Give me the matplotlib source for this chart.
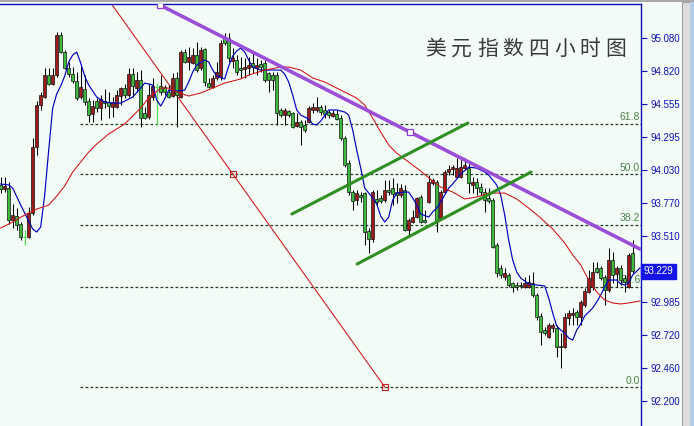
import matplotlib
matplotlib.use("Agg")
import matplotlib.pyplot as plt
from matplotlib.patches import Rectangle

# 4-hour candles, oldest first
opens = [93.914, 93.882, 93.890, 93.636, 93.668, 93.604, 93.501, 93.501, 93.692, 94.215,
         94.548, 94.612, 94.786, 94.715, 94.786, 95.104, 94.969, 94.842, 94.794, 94.739,
         94.612, 94.675, 94.580, 94.477, 94.580, 94.525, 94.580, 94.572, 94.533, 94.533,
         94.620, 94.683, 94.628, 94.794, 94.683, 94.747, 94.485, 94.453, 94.612, 94.691,
         94.699, 94.691, 94.652, 94.620, 94.763, 94.612, 94.969, 94.890, 94.882, 94.945,
         94.842, 94.993, 94.723, 94.691, 94.763, 94.771, 95.080, 95.080, 94.898, 94.905,
         94.842, 94.834, 94.842, 94.882, 94.842, 94.874, 94.882, 94.802, 94.786, 94.786,
         94.509, 94.469, 94.501, 94.485, 94.382, 94.414, 94.390, 94.414, 94.509, 94.509,
         94.533, 94.509, 94.493, 94.461, 94.477, 94.445, 94.287, 94.088, 93.858, 93.795,
         93.834, 93.850, 93.549, 93.486, 93.803, 93.811, 93.795, 93.874, 93.890, 93.858,
         93.834, 93.874, 93.557, 93.620, 93.660, 93.819, 93.636, 93.779, 93.929, 93.937,
         93.652, 93.858, 94.017, 94.040, 93.977, 93.977, 94.048, 94.048, 93.914, 93.937,
         93.898, 93.858, 93.811, 93.795, 93.438, 93.255, 93.184, 93.200, 93.136, 93.120,
         93.120, 93.105, 93.105, 93.136, 93.041, 92.874, 92.763, 92.708, 92.779, 92.779,
         92.636, 92.628, 92.858, 92.882, 92.906, 92.866, 92.962, 93.065, 93.105, 93.255,
         93.255, 93.184, 93.081, 93.319, 93.208, 93.255, 93.176, 93.105, 93.374]
highs = [93.977, 93.977, 93.937, 93.763, 93.731, 93.620, 93.557, 93.739, 94.287, 94.580,
         94.652, 94.842, 94.842, 94.842, 95.128, 95.128, 94.985, 94.890, 94.850, 94.810,
         94.850, 94.786, 94.604, 94.588, 94.604, 94.628, 94.675, 94.652, 94.612, 94.667,
         94.691, 94.715, 94.842, 94.842, 94.810, 94.826, 94.533, 94.723, 94.763, 94.723,
         94.786, 94.707, 94.707, 94.802, 94.810, 94.985, 94.993, 95.009, 95.001, 95.048,
         95.009, 95.001, 94.763, 94.786, 94.890, 95.064, 95.120, 95.120, 95.001, 94.945,
         94.929, 94.921, 94.929, 94.961, 94.921, 94.905, 94.905, 94.810, 94.810, 94.810,
         94.525, 94.525, 94.509, 94.493, 94.485, 94.429, 94.429, 94.541, 94.564, 94.612,
         94.548, 94.548, 94.509, 94.509, 94.509, 94.469, 94.302, 94.112, 93.874, 93.874,
         93.858, 93.858, 93.573, 93.874, 93.874, 93.834, 93.953, 93.953, 93.969, 93.929,
         93.922, 93.914, 93.652, 93.715, 93.819, 93.834, 93.715, 93.993, 93.969, 93.953,
         93.874, 94.033, 94.072, 94.072, 94.128, 94.136, 94.128, 94.096, 93.977, 93.969,
         93.929, 93.890, 93.890, 93.811, 93.454, 93.279, 93.255, 93.216, 93.144, 93.144,
         93.144, 93.184, 93.200, 93.224, 93.057, 92.898, 92.787, 92.819, 92.819, 92.803,
         92.739, 92.898, 92.922, 92.938, 92.922, 93.001, 93.097, 93.239, 93.303, 93.303,
         93.271, 93.200, 93.414, 93.382, 93.271, 93.279, 93.200, 93.374, 93.477]
lows = [93.850, 93.858, 93.604, 93.573, 93.557, 93.477, 93.438, 93.494, 93.676, 94.152,
        94.509, 94.604, 94.707, 94.707, 94.771, 94.961, 94.834, 94.771, 94.723, 94.588,
        94.596, 94.548, 94.414, 94.414, 94.493, 94.429, 94.525, 94.445, 94.453, 94.525,
        94.548, 94.604, 94.612, 94.612, 94.652, 94.374, 94.437, 94.437, 94.588, 94.390,
        94.628, 94.628, 94.604, 94.612, 94.374, 94.604, 94.882, 94.826, 94.874, 94.810,
        94.826, 94.699, 94.683, 94.683, 94.747, 94.747, 95.024, 94.890, 94.842, 94.786,
        94.763, 94.763, 94.786, 94.802, 94.786, 94.810, 94.731, 94.652, 94.667, 94.390,
        94.453, 94.390, 94.453, 94.366, 94.374, 94.231, 94.334, 94.406, 94.485, 94.493,
        94.469, 94.445, 94.445, 94.453, 94.429, 94.271, 94.056, 93.834, 93.715, 93.755,
        93.779, 93.438, 93.374, 93.462, 93.755, 93.771, 93.779, 93.834, 93.755, 93.771,
        93.819, 93.549, 93.517, 93.612, 93.652, 93.612, 93.612, 93.771, 93.914, 93.541,
        93.636, 93.850, 93.993, 93.993, 93.969, 93.969, 94.033, 93.850, 93.850, 93.834,
        93.834, 93.700, 93.771, 93.414, 93.184, 93.176, 93.160, 93.105, 93.065, 93.081,
        93.097, 93.097, 93.097, 93.025, 92.843, 92.644, 92.724, 92.700, 92.747, 92.549,
        92.462, 92.620, 92.803, 92.803, 92.803, 92.803, 92.946, 93.057, 93.081, 93.216,
        93.160, 92.962, 93.065, 93.136, 93.105, 93.120, 93.065, 93.097, 93.216]
closes = [93.882, 93.906, 93.636, 93.676, 93.597, 93.501, 93.501, 93.692, 94.215, 94.548,
          94.628, 94.786, 94.715, 94.786, 95.104, 94.969, 94.842, 94.794, 94.739, 94.604,
          94.691, 94.572, 94.469, 94.541, 94.525, 94.596, 94.564, 94.541, 94.572, 94.628,
          94.683, 94.628, 94.794, 94.699, 94.747, 94.445, 94.445, 94.628, 94.699, 94.691,
          94.652, 94.652, 94.612, 94.763, 94.628, 94.969, 94.890, 94.929, 94.945, 94.826,
          94.985, 94.731, 94.691, 94.763, 94.810, 95.040, 95.040, 94.921, 94.921, 94.810,
          94.826, 94.850, 94.866, 94.850, 94.866, 94.850, 94.747, 94.747, 94.747, 94.485,
          94.469, 94.509, 94.469, 94.374, 94.414, 94.374, 94.350, 94.525, 94.533, 94.533,
          94.493, 94.477, 94.469, 94.485, 94.437, 94.287, 94.072, 93.858, 93.787, 93.850,
          93.819, 93.541, 93.486, 93.858, 93.779, 93.787, 93.874, 93.858, 93.842, 93.834,
          93.890, 93.557, 93.636, 93.660, 93.811, 93.620, 93.620, 93.937, 93.953, 93.620,
          93.858, 94.017, 94.040, 94.056, 94.048, 94.056, 94.072, 93.929, 93.937, 93.890,
          93.858, 93.795, 93.787, 93.422, 93.216, 93.200, 93.216, 93.120, 93.105, 93.105,
          93.112, 93.136, 93.144, 93.041, 92.866, 92.747, 92.739, 92.803, 92.803, 92.628,
          92.628, 92.866, 92.898, 92.898, 92.866, 92.985, 93.073, 93.176, 93.224, 93.224,
          93.176, 93.081, 93.319, 93.200, 93.255, 93.160, 93.144, 93.358, 93.229]

# fast (blue) and slow (red) moving averages, read at candle indices
ma_fast_idx = [0, 2, 3, 5, 7, 8, 9, 10, 11, 12,
               13, 14, 15, 16, 17, 18, 19, 20, 21, 22,
               24, 26, 28, 30, 33, 35, 36, 38, 39, 40,
               41, 42, 44, 46, 47, 48, 49, 51, 52, 53,
               54, 56, 57, 58, 59, 60, 61, 62, 63, 65,
               68, 70, 71, 72, 73, 74, 75, 77, 78, 79,
               80, 82, 84, 86, 87, 88, 89, 90, 91, 93,
               94, 95, 96, 97, 98, 99, 101, 102, 103, 104,
               105, 107, 108, 109, 110, 112, 113, 115, 117, 119,
               121, 122, 124, 125, 126, 127, 128, 129, 130, 132,
               134, 136, 137, 138, 139, 140, 141, 142, 143, 144,
               145, 146, 147, 148, 149, 150, 151, 152, 153, 154,
               155, 156, 157, 158, 159.8]
ma_fast = [93.922, 93.914, 93.890, 93.755, 93.628, 93.565, 93.541, 93.581, 93.834, 94.191,
           94.525, 94.636, 94.699, 94.778, 94.890, 94.945, 94.969, 94.882, 94.778, 94.707,
           94.612, 94.572, 94.564, 94.564, 94.612, 94.683, 94.723, 94.707, 94.588, 94.541,
           94.596, 94.667, 94.659, 94.667, 94.731, 94.810, 94.866, 94.905, 94.890, 94.826,
           94.779, 94.755, 94.858, 94.937, 94.977, 95.001, 94.969, 94.905, 94.850, 94.826,
           94.826, 94.826, 94.794, 94.731, 94.628, 94.509, 94.469, 94.437, 94.398, 94.390,
           94.422, 94.509, 94.509, 94.493, 94.469, 94.350, 94.191, 94.049, 93.890, 93.811,
           93.763, 93.668, 93.620, 93.660, 93.795, 93.850, 93.858, 93.858, 93.811, 93.755,
           93.684, 93.660, 93.700, 93.731, 93.779, 93.890, 93.922, 94.001, 94.056, 94.048,
           94.017, 93.993, 93.914, 93.834, 93.676, 93.477, 93.319, 93.224, 93.176, 93.129,
           93.121, 93.113, 93.017, 92.899, 92.795, 92.763, 92.739, 92.700, 92.684, 92.763,
           92.811, 92.875, 92.906, 92.938, 92.986, 93.041, 93.105, 93.160, 93.160, 93.160,
           93.129, 93.121, 93.137, 93.200, 93.255]
ma_slow_idx = [0, 3, 6, 9, 12, 14, 16, 18, 20, 22,
               24, 27, 31, 35, 37, 40, 42, 44, 47, 50,
               53, 56, 60, 62, 66, 70, 72, 75, 78, 81,
               85, 89, 91, 93, 95, 97, 99, 102, 105, 108,
               110, 113, 116, 119, 122, 126, 129, 132, 135, 138,
               141, 143, 145, 147, 149, 151, 153, 155, 157, 159.8]
ma_slow = [93.573, 93.620, 93.676, 93.723, 93.755, 93.826, 93.906, 94.017, 94.096, 94.175,
           94.239, 94.319, 94.398, 94.525, 94.604, 94.683, 94.683, 94.652, 94.620, 94.644,
           94.683, 94.723, 94.755, 94.786, 94.826, 94.850, 94.850, 94.826, 94.763, 94.731,
           94.667, 94.604, 94.548, 94.445, 94.334, 94.231, 94.167, 94.096, 94.025, 93.945,
           93.898, 93.858, 93.803, 93.819, 93.850, 93.850, 93.803, 93.731, 93.652, 93.565,
           93.454, 93.359, 93.280, 93.160, 93.065, 93.001, 92.978, 92.970, 92.978, 92.994]

price_ticks = [95.080, 94.820, 94.555, 94.295, 94.030, 93.770, 93.510,
               92.985, 92.720, 92.460, 92.200]
last_price = 93.229

# fibonacci retracement (anchors: candle index, price)
fib_high_idx, fib_high = 20.1, 95.688
fib_low_idx, fib_low = 96.1, 92.308
fib_start_idx = 19.8
fib_levels = [0.0, 23.6, 38.2, 50.0, 61.8]

# hand drawn trend lines (candle index, price)
resist_line = [(39.8, 95.342), (102.3, 94.334)]
channel_top = [(72.8, 93.684), (116.8, 94.406)]
channel_bottom = [(89.1, 93.287), (132.6, 94.017)]

title = "美元指数四小时图"

BG = "#f3fbf7"
UP = "#9c1c1c"
DOWN = "#3dba3d"
DOJI = "#4ee04e"
AXBLUE = "#1010b8"

W, H = 694, 426
fig = plt.figure(figsize=(W / 100, H / 100), dpi=100, facecolor=BG)
ax = fig.add_axes([0, 0, 641 / W, 422 / H], facecolor=BG)
XMIN, XMAX = -0.175, 160.075
ax.set_xlim(XMIN, XMAX)
ax.set_ylim(92.002, 95.350)

# candles
for i in range(len(opens)):
    o, h, l, c = opens[i], highs[i], lows[i], closes[i]
    if o == c:
        ax.vlines(i, l, h, color=DOJI, lw=0.9, zorder=3)
        ax.hlines(o, i - 0.35, i + 0.35, color=DOJI, lw=0.9, zorder=3)
        continue
    ax.vlines(i, l, h, color="black", lw=0.75, zorder=3)
    col = UP if c > o else DOWN
    ax.add_patch(Rectangle((i - 0.33, min(o, c)), 0.66, abs(c - o),
                           fc=col, ec="black", lw=0.45, zorder=3.5))

ax.plot(ma_fast_idx, ma_fast, color="#0000c0", lw=0.85, zorder=4)
ax.plot(ma_slow_idx, ma_slow, color="#d01010", lw=0.75, zorder=4)

# fibonacci
rng = fib_high - fib_low
for lv in fib_levels:
    p = fib_low + rng * lv / 100
    ax.plot([fib_start_idx, XMAX], [p, p], color="#1e3d1e", lw=0.9,
            dashes=(2.2, 1.8), zorder=1)
    ax.annotate(f"{lv:.1f}", xy=(XMAX - 0.2, p), xytext=(0, 1.2),
                textcoords="offset points", ha="right", va="bottom",
                fontsize=7.5, color="#4a824a", family="Liberation Sans", zorder=1.5)
ax.plot([fib_high_idx, fib_low_idx], [fib_high, fib_low], color="#d02020",
        lw=0.8, zorder=2)
ax.plot([(fib_high_idx + fib_low_idx) / 2, fib_low_idx], [fib_low + rng * 0.5, fib_low],
        ls="none", marker="s", ms=4, mfc="none", mec="#c02020", mew=0.8, zorder=6)

# resistance ray
(x0, y0), (x1, y1) = resist_line
slope = (y1 - y0) / (x1 - x0)
ax.plot([x0, XMAX], [y0, y1 + slope * (XMAX - x1)], color="#9b4fd6", lw=2.6,
        solid_capstyle="butt", zorder=5)
ax.plot([x0, x1], [y0, y1], ls="none", marker="s", ms=4.5, mfc="white",
        mec="#8a3fd0", mew=0.9, zorder=6)

# channel
for ln in (channel_top, channel_bottom):
    xs = [p[0] for p in ln]
    ys = [p[1] for p in ln]
    ax.plot(xs, ys, color="#2f8f22", lw=2.2, solid_capstyle="round", zorder=5)

# axes styling
for s in ("left", "bottom"):
    ax.spines[s].set_visible(False)
for s in ("right", "top"):
    ax.spines[s].set_color(AXBLUE)
    ax.spines[s].set_linewidth(1.0)
ax.set_xticks([])
ax.yaxis.tick_right()
ax.set_yticks(price_ticks)
ax.set_yticklabels([f"{v:.3f}" for v in price_ticks])
ax.tick_params(axis="y", colors=AXBLUE, length=4, width=0.8, pad=2.5, labelsize=7)
for t in ax.get_yticklabels():
    t.set_family("Liberation Sans")

ax.text(1.004, last_price, f"{last_price:.3f}", transform=ax.get_yaxis_transform(),
        ha="left", va="center", fontsize=7, color="white", family="Liberation Sans",
        bbox=dict(boxstyle="square,pad=0.25", fc="#1414e6", ec="#1414e6"), zorder=10)

# title
for k, ch in enumerate(title):
    fig.text((436 + k * 25.7) / W, 1 - 49 / H, ch, ha="center", va="center",
             fontsize=15, color="#3a3a3a", family=["Noto Sans CJK SC", "DejaVu Sans"])

# window chrome
fig.patches.append(Rectangle((0, 1 - 2 / H), 1, 2 / H, transform=fig.transFigure,
                             fc="#a8a8a8", ec="none"))
fig.patches.append(Rectangle((682 / W, 0), 8 / W, 1 - 2 / H, transform=fig.transFigure,
                             fc="#dcdcdc", ec="#909090", lw=0.6))
fig.patches.append(Rectangle((690 / W, 0), 4 / W, 1 - 2 / H, transform=fig.transFigure,
                             fc="#b4cde8", ec="none"))

fig.savefig("out.png", dpi=100, facecolor=BG)
